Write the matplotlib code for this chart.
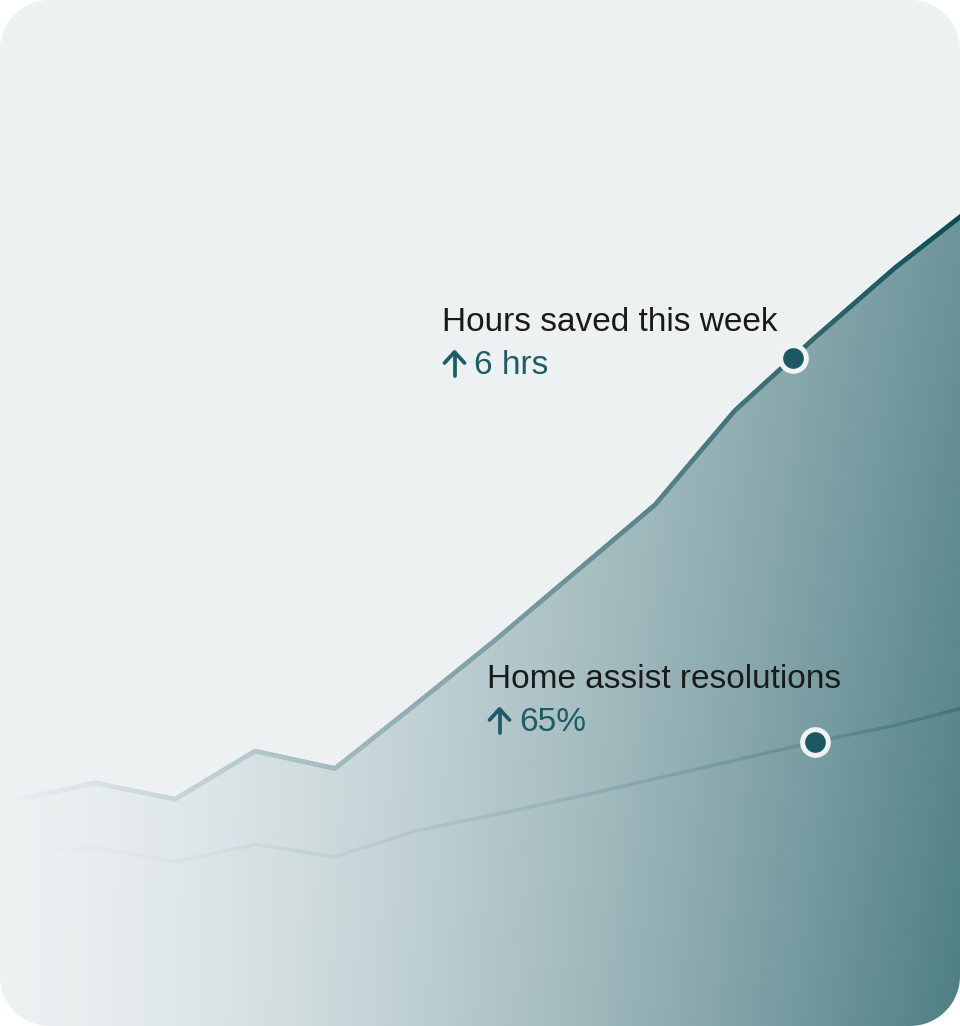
import numpy as np
import matplotlib
matplotlib.use("Agg")
import matplotlib.pyplot as plt
from matplotlib.collections import LineCollection
from matplotlib.path import Path
from matplotlib.patches import PathPatch

# ---------------- data ----------------
weeks = np.arange(13)
hours_saved = [22.0, 23.7, 22.1, 26.8, 25.1, 31.3, 37.6, 44.2, 50.8, 60.0, 67.1, 73.9, 80.0]
resolutions = [16.9, 17.4, 16.0, 17.7, 16.5, 19.0, 20.6, 22.3, 24.1, 25.9, 27.7, 29.3, 31.3]
marker_week = [9.72, 10.0]
labels = ["Hours saved this week", "Home assist resolutions"]
deltas = ["6 hrs", "65%"]

# ---------------- layout / style ----------------
W, H = 960, 1026
X0PIX, XSTEP = 15, 80
CARD = np.array([237, 241, 242]) / 255
DARK_FILL = np.array([78, 126, 133]) / 255
LINE1_DARK = np.array([14, 77, 85]) / 255
LINE2_DARK = np.array([66, 119, 126]) / 255
TEXT_COLOR = "#1A1A1A"
ACCENT = "#1E5C66"
FONT = "Liberation Sans"
FS = 24

fig = plt.figure(figsize=(W / 100, H / 100), dpi=100)
fig.patch.set_facecolor(CARD)

ax = fig.add_axes([0, 0, 1, 1])
ax.set_xlim(-X0PIX / XSTEP, (W - X0PIX) / XSTEP)
ax.set_ylim(0, 100)
ax.axis("off")

# ---- gradient area fill under the top series ----
xs = np.linspace(0, 1, W)[None, :]
ys = np.linspace(0, 1, H)[:, None]
w = (xs ** 1.45) * (0.75 + 0.25 * ys)
img = CARD[None, None, :] * (1 - w[..., None]) + DARK_FILL[None, None, :] * w[..., None]
xl = ax.get_xlim()
im = ax.imshow(img, extent=[xl[0], xl[1], 0, 100], origin="upper",
               aspect="auto", zorder=1, interpolation="bilinear")
poly = ax.fill_between(weeks, hours_saved, 0, facecolor="none", edgecolor="none")
im.set_clip_path(poly.get_paths()[0], transform=ax.transData)


def gradient_line(yvals, dark, lw, power, floor, z):
    xd = np.linspace(weeks[0], weeks[-1], 1200)
    yd = np.interp(xd, weeks, yvals)
    pts = np.column_stack([xd, yd]).reshape(-1, 1, 2)
    segs = np.concatenate([pts[:-1], pts[1:]], axis=1)
    xm = 0.5 * (xd[:-1] + xd[1:])
    t = np.clip((X0PIX + XSTEP * xm) / W, 0, 1)
    ww = floor + (1 - floor) * t ** power
    cols = CARD[None, :] * (1 - ww[:, None]) + dark[None, :] * ww[:, None]
    lc = LineCollection(segs, colors=cols, linewidths=lw, capstyle="round",
                        joinstyle="round", zorder=z)
    ax.add_collection(lc)


gradient_line(resolutions, LINE2_DARK, 2.2, 1.25, 0.0, 3)
gradient_line(hours_saved, LINE1_DARK, 3.2, 1.05, 0.0, 4)

# markers
series = [hours_saved, resolutions]
for mx, s in zip(marker_week, series):
    ax.plot([mx], [np.interp(mx, weeks, s)], "o", ms=18.5, mfc="#1C5862",
            mec="#EEF3F4", mew=3.6, zorder=6)

# ---------------- overlay (pixel space) ----------------
ov = fig.add_axes([0, 0, 1, 1], zorder=10)
ov.set_xlim(0, W)
ov.set_ylim(H, 0)
ov.axis("off")
ov.patch.set_alpha(0)

label_pos = [(442, 331), (487, 688)]
delta_gap = 43
for (lx, ly), lab, d in zip(label_pos, labels, deltas):
    ov.text(lx, ly, lab, fontsize=FS, family=FONT, color=TEXT_COLOR, va="baseline", ha="left")
    by = ly + delta_gap
    ov.text(lx + 32, by, d, fontsize=FS, family=FONT, color=ACCENT, va="baseline", ha="left")
    cx = lx + 12.5
    ov.plot([cx, cx], [by + 2, by - 21], color=ACCENT, lw=2.7, solid_capstyle="round")
    ov.plot([cx - 10, cx, cx + 10], [by - 11, by - 22, by - 11], color=ACCENT, lw=2.7,
            solid_capstyle="round", solid_joinstyle="round")


# corner mask (white outside rounded card)
def rounded_rect(x0, y0, x1, y1, r, n=40):
    pts = []
    corners = [(x1 - r, y0 + r, -90, 0), (x1 - r, y1 - r, 0, 90),
               (x0 + r, y1 - r, 90, 180), (x0 + r, y0 + r, 180, 270)]
    for cx, cy, a0, a1 in corners:
        a = np.radians(np.linspace(a0, a1, n))
        pts += list(zip(cx + r * np.cos(a), cy + r * np.sin(a)))
    return np.array(pts)


inner = rounded_rect(0, 0, W, H, 50)[::-1]
outer = np.array([(-20, -20), (W + 20, -20), (W + 20, H + 20), (-20, H + 20)])
verts = np.concatenate([outer, outer[:1], inner, inner[:1]])
codes = ([Path.MOVETO] + [Path.LINETO] * 3 + [Path.CLOSEPOLY] +
         [Path.MOVETO] + [Path.LINETO] * (len(inner) - 1) + [Path.CLOSEPOLY])
ov.add_patch(PathPatch(Path(verts, codes), facecolor="white", edgecolor="none", zorder=20))

fig.savefig("out.png", dpi=100, facecolor=fig.get_facecolor())
